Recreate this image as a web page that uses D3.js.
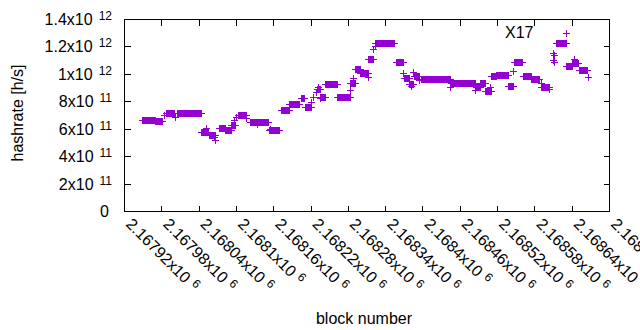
<html lang="en">
<head>
<meta charset="utf-8">
<title>hashrate X17</title>
<script src="https://d3js.org/d3.v7.min.js"></script>
<style>
  body { margin: 0; background: #fff; }
  text { font-family: "Liberation Sans", Arial, sans-serif; fill: #000; }
</style>
</head>
<body>
<script>
// runs of blocks with the same estimated hashrate (start block, end block, h/s)
var runStart = [2167949, 2167958, 2167970, 2167984, 2167987, 2168002, 2168005, 2168044, 2168052, 2168056,
                2168064, 2168067, 2168072, 2168082, 2168092, 2168097, 2168100, 2168103, 2168117, 2168122,
                2168134, 2168134, 2168154, 2168153, 2168172, 2168185, 2168204, 2168211, 2168221, 2168224,
                2168229, 2168232, 2168230, 2168235, 2168235, 2168243, 2168262, 2168283, 2168288, 2168284,
                2168291, 2168300, 2168312, 2168312, 2168320, 2168323, 2168323, 2168358, 2168369, 2168371,
                2168378, 2168382, 2168384, 2168386, 2168395, 2168398, 2168444, 2168446, 2168484, 2168486,
                2168492, 2168500, 2168509, 2168510, 2168519, 2168537, 2168545, 2168548, 2168561, 2168575,
                2168590, 2168591, 2168596, 2168603, 2168610, 2168612, 2168610, 2168612, 2168614, 2168631,
                2168631, 2168643, 2168640, 2168651, 2168667];
var runEnd   = [2167958, 2167970, 2167981, 2167984, 2168000, 2168002, 2168044, 2168055, 2168052, 2168066,
                2168064, 2168067, 2168082, 2168092, 2168099, 2168097, 2168100, 2168117, 2168117, 2168132,
                2168134, 2168151, 2168154, 2168170, 2168186, 2168201, 2168209, 2168221, 2168221, 2168224,
                2168229, 2168232, 2168235, 2168235, 2168243, 2168262, 2168283, 2168283, 2168288, 2168291,
                2168300, 2168312, 2168312, 2168320, 2168320, 2168323, 2168355, 2168369, 2168369, 2168378,
                2168385, 2168382, 2168384, 2168395, 2168395, 2168444, 2168444, 2168484, 2168484, 2168492,
                2168500, 2168510, 2168509, 2168519, 2168537, 2168545, 2168545, 2168560, 2168574, 2168587,
                2168590, 2168604, 2168596, 2168603, 2168610, 2168612, 2168610, 2168612, 2168631, 2168631,
                2168640, 2168643, 2168650, 2168665, 2168667];
var runRate  = [6.60e11, 6.67e11, 6.53e11, 7.00e11, 7.18e11, 6.85e11, 7.11e11, 5.74e11, 6.02e11, 5.54e11,
                5.40e11, 5.18e11, 6.07e11, 5.87e11, 6.25e11, 6.64e11, 6.85e11, 6.98e11, 6.78e11, 6.47e11,
                6.34e11, 6.47e11, 5.98e11, 5.87e11, 7.33e11, 7.80e11, 8.22e11, 7.58e11, 7.97e11, 8.33e11,
                8.70e11, 9.06e11, 8.91e11, 8.22e11, 8.33e11, 9.26e11, 8.31e11, 8.82e11, 9.67e11, 9.31e11,
                10.39e11, 10.04e11, 9.79e11, 11.05e11, 11.79e11, 12.03e11, 12.24e11, 10.83e11, 10.03e11, 9.73e11,
                9.26e11, 9.15e11, 10.10e11, 9.88e11, 9.55e11, 9.66e11, 9.04e11, 9.30e11, 8.79e11, 9.04e11,
                9.33e11, 8.75e11, 9.02e11, 9.81e11, 9.90e11, 9.15e11, 10.21e11, 10.83e11, 9.88e11, 9.66e11,
                9.33e11, 9.04e11, 9.11e11, 8.86e11, 11.50e11, 11.34e11, 11.01e11, 10.89e11, 12.24e11, 13.00e11,
                10.55e11, 11.08e11, 10.79e11, 10.28e11, 9.75e11];

var xTicks = [2167920, 2167980, 2168040, 2168100, 2168160, 2168220, 2168280,
              2168340, 2168400, 2168460, 2168520, 2168580, 2168640, 2168700];
var xTickMant = ["2.16792", "2.16798", "2.16804", "2.1681", "2.16816", "2.16822", "2.16828",
                 "2.16834", "2.1684", "2.16846", "2.16852", "2.16858", "2.16864", "2.1687"];
var yTicks = [0, 2e11, 4e11, 6e11, 8e11, 10e11, 12e11, 14e11];
var yTickMant = ["0", "2", "4", "6", "8", "1", "1.2", "1.4"];
var yTickExp = ["", "11", "11", "11", "11", "12", "12", "12"];

var width = 640, height = 330;
var plotLeft = 124, plotRight = 609, plotTop = 19, plotBottom = 211;
var color = "#9400d3";

var svg = d3.select("body").append("svg")
    .attr("width", width)
    .attr("height", height);

var x = d3.scaleLinear().domain([2167920, 2168700]).range([plotLeft, plotRight]);
var y = d3.scaleLinear().domain([0, 1.4e12]).range([plotBottom, plotTop]);

// ticks (inward, mirrored)
svg.append("g")
    .attr("transform", "translate(0," + (plotBottom + 0.5) + ")")
    .call(d3.axisBottom(x).tickValues(xTicks).tickSize(-6).tickFormat(""))
    .call(function(g) { g.select(".domain").remove(); });
svg.append("g")
    .attr("transform", "translate(0," + (plotTop + 0.5) + ")")
    .call(d3.axisTop(x).tickValues(xTicks).tickSize(-6).tickFormat(""))
    .call(function(g) { g.select(".domain").remove(); });
svg.append("g")
    .attr("transform", "translate(" + (plotLeft + 0.5) + ",0)")
    .call(d3.axisLeft(y).tickValues(yTicks).tickSize(-6).tickFormat(""))
    .call(function(g) { g.select(".domain").remove(); });
svg.append("g")
    .attr("transform", "translate(" + (plotRight + 0.5) + ",0)")
    .call(d3.axisRight(y).tickValues(yTicks).tickSize(-6).tickFormat(""))
    .call(function(g) { g.select(".domain").remove(); });
svg.selectAll(".tick line").attr("stroke", "#000").attr("shape-rendering", "crispEdges");

svg.append("rect")
    .attr("x", plotLeft + 0.5)
    .attr("y", plotTop + 0.5)
    .attr("width", plotRight - plotLeft)
    .attr("height", plotBottom - plotTop)
    .attr("fill", "none")
    .attr("stroke", "#000")
    .attr("shape-rendering", "crispEdges");

// y tick labels
var yl = svg.append("g").selectAll("text")
    .data(yTicks)
    .enter().append("text")
    .attr("x", function(d, i) { return yTickExp[i] ? 112 : 109; })
    .attr("y", function(d) { return y(d) + 6; })
    .attr("text-anchor", "end")
    .attr("font-size", "16px");
yl.append("tspan").text(function(d, i) { return yTickMant[i] + (yTickExp[i] ? "x10" : ""); });
yl.append("tspan")
    .attr("dx", 6)
    .attr("dy", -5)
    .attr("font-size", "12px")
    .text(function(d, i) { return yTickExp[i]; });

// x tick labels, rotated
var xl = svg.append("g").selectAll("text")
    .data(xTicks)
    .enter().append("text")
    .attr("transform", function(d) { return "translate(" + (x(d) + 1) + "," + (plotBottom + 14) + ") rotate(45)"; })
    .attr("text-anchor", "start")
    .attr("font-size", "16px");
xl.append("tspan").text(function(d, i) { return xTickMant[i] + "x10"; });
xl.append("tspan")
    .attr("dx", 5)
    .attr("dy", -5)
    .attr("font-size", "12px")
    .text("6");

// axis titles
svg.append("text")
    .attr("transform", "translate(23," + ((plotTop + plotBottom) / 2 - 2) + ") rotate(-90)")
    .attr("text-anchor", "middle")
    .attr("font-size", "16px")
    .text("hashrate [h/s]");

svg.append("text")
    .attr("x", 364)
    .attr("y", 324)
    .attr("text-anchor", "middle")
    .attr("font-size", "16px")
    .text("block number");

svg.append("text")
    .attr("x", 505)
    .attr("y", 38)
    .attr("font-size", "16px")
    .text("X17");

// '+' points: every run is drawn as its row of overlapping crosses
var pts = svg.append("g").attr("fill", color).attr("shape-rendering", "crispEdges");
var runs = d3.range(runStart.length);

pts.selectAll("rect.v")
    .data(runs)
    .enter().append("rect")
    .attr("class", "v")
    .attr("x", function(i) { return Math.round(x(runStart[i])); })
    .attr("y", function(i) { return Math.round(y(runRate[i])) - 3; })
    .attr("width", function(i) { return Math.round(x(runEnd[i])) - Math.round(x(runStart[i])) + 1; })
    .attr("height", 7);

pts.selectAll("rect.h")
    .data(runs)
    .enter().append("rect")
    .attr("class", "h")
    .attr("x", function(i) { return Math.round(x(runStart[i])) - 3; })
    .attr("y", function(i) { return Math.round(y(runRate[i])); })
    .attr("width", function(i) { return Math.round(x(runEnd[i])) - Math.round(x(runStart[i])) + 7; })
    .attr("height", 1);
</script>
</body>
</html>
